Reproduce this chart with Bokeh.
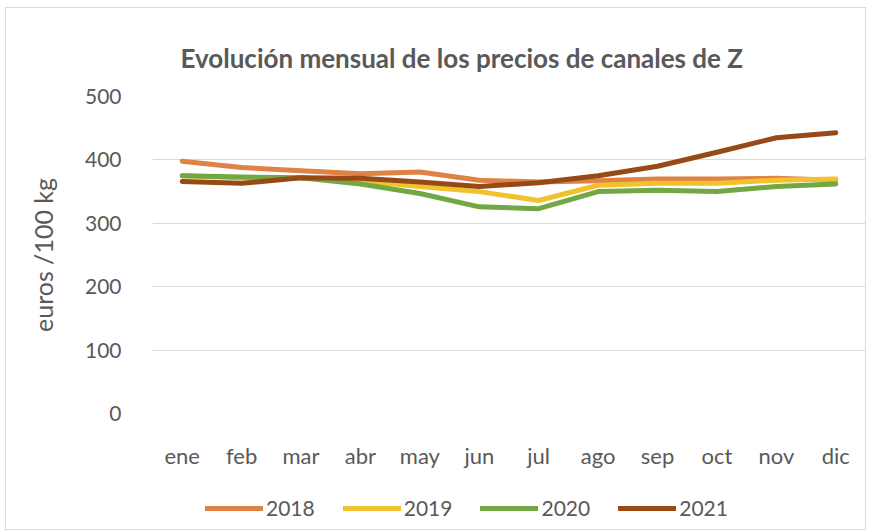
from bokeh.plotting import figure
from bokeh.layouts import column
from bokeh.models import Legend, LegendItem, ColumnDataSource, FixedTicker
from bokeh.embed import file_html
from bokeh.resources import INLINE

months = ["ene", "feb", "mar", "abr", "may", "jun", "jul", "ago", "sep", "oct", "nov", "dic"]
y2018 = [398, 388, 383, 378, 381, 368, 365, 367, 370, 370, 371, 368]
y2019 = [375, 372, 372, 367, 358, 350, 336, 360, 363, 363, 368, 370]
y2020 = [375, 373, 372, 362, 347, 326, 323, 350, 352, 350, 358, 362]
y2021 = [366, 363, 372, 371, 365, 358, 364, 375, 390, 412, 435, 443]
series_names = ["2018", "2019", "2020", "2021"]
y_ticks = [0, 100, 200, 300, 400, 500]

colors = ["#DE8245", "#F2C12E", "#72A844", "#974A16"]
FONT = "Lato"
TXT = "#595959"
series = [y2018, y2019, y2020, y2021]

# ---- main chart ----
p = figure(x_range=months, y_range=(0, 500), frame_width=713, frame_height=317,
           output_backend="svg", toolbar_location=None,
           title="Evolución mensual de los precios de canales de Z")
p.min_border_left = 146
p.min_border_right = 0
p.min_border_top = 88
p.min_border_bottom = 70

p.title.text_font = FONT
p.title.text_font_size = "26px"
p.title.text_font_style = "bold"
p.title.text_color = TXT
p.title.align = "left"
p.title.offset = 28
p.title.standoff = 45

p.outline_line_color = None
p.background_fill_color = "white"
p.border_fill_color = "white"

p.xgrid.grid_line_color = None
p.ygrid.grid_line_color = "#d9d9d9"
p.ygrid.grid_line_width = 1
p.yaxis.ticker = FixedTicker(ticks=y_ticks)

for ax in (p.xaxis[0], p.yaxis[0]):
    ax.axis_line_color = None
    ax.major_tick_line_color = None
    ax.minor_tick_line_color = None
    ax.major_label_text_font = FONT
    ax.major_label_text_color = TXT

p.xaxis.major_label_text_font_size = "22px"
p.yaxis.major_label_text_font_size = "21px"
p.xaxis.major_label_standoff = 22
p.yaxis.major_label_standoff = 25
p.yaxis.axis_label = "euros /100 kg"
p.yaxis.axis_label_text_font = FONT
p.yaxis.axis_label_text_font_size = "25px"
p.yaxis.axis_label_text_font_style = "normal"
p.yaxis.axis_label_text_color = TXT
p.yaxis.axis_label_standoff = 24

for name, vals, col in zip(series_names, series, colors):
    src = ColumnDataSource(dict(x=months, y=vals))
    p.line("x", "y", source=src, line_color=col, line_width=5,
           line_join="round", line_cap="round")

# ---- legend strip (series drawn out of its visible range; only the legend shows) ----
lg = figure(x_range=months, y_range=(0, 1), frame_width=859, frame_height=46,
            output_backend="svg", toolbar_location=None)
lg.min_border = 0
lg.axis.visible = False
lg.grid.visible = False
lg.outline_line_color = None
lg.background_fill_color = "white"
lg.border_fill_color = "white"

items = []
for name, vals, col in zip(series_names, series, colors):
    r = lg.line(x=months, y=vals, line_color=col, line_width=5, line_cap="round")
    items.append(LegendItem(label=name, renderers=[r]))

legend = Legend(items=items, orientation="horizontal", location=(199, 9),
                label_text_font=FONT, label_text_font_size="21px",
                label_text_color=TXT, glyph_width=58, glyph_height=22,
                label_standoff=3, spacing=28, border_line_color=None,
                background_fill_alpha=0, margin=0, padding=0)
lg.add_layout(legend, "center")

layout = column(p, lg, spacing=0,
                styles={"border": "1px solid #d9d9d9", "margin-left": "5px",
                        "margin-top": "7px"})

open("out.html", "w").write(file_html(layout, INLINE))
